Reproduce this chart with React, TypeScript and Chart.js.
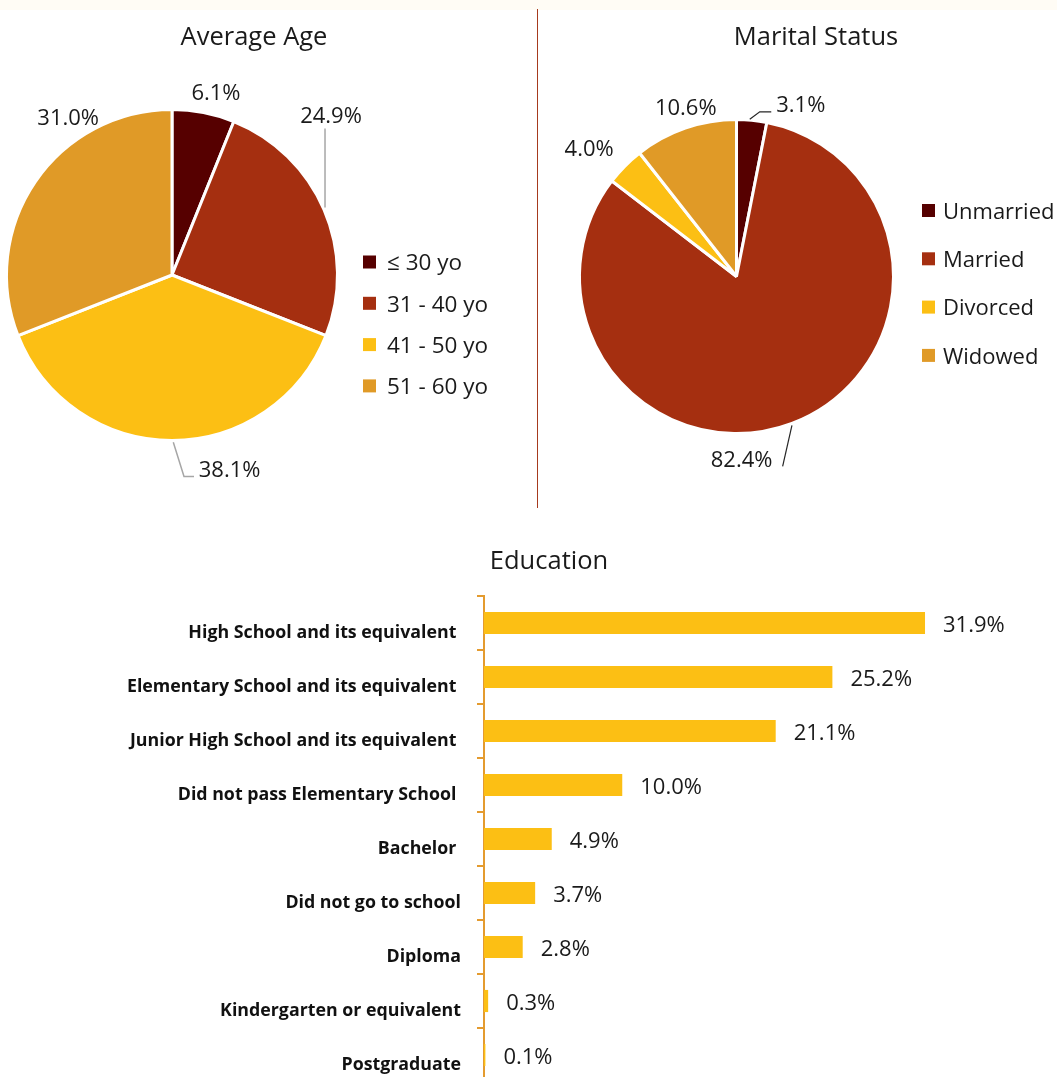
import React, { useEffect, useRef } from 'react';
import { Chart, registerables } from 'chart.js';

Chart.register(...registerables);

const FONT = '"Open Sans", "Noto Sans", "DejaVu Sans", sans-serif';
const TEXT = '#1a1a1a';

// ---------- data ----------
const ageCategories = ['\u2264 30 yo', '31 - 40 yo', '41 - 50 yo', '51 - 60 yo'];
const ageValues = [6.1, 24.9, 38.1, 31.0];

const maritalCategories = ['Unmarried', 'Married', 'Divorced', 'Widowed'];
const maritalValues = [3.1, 82.4, 4.0, 10.6];

const educationCategories = [
  'High School and its equivalent ',
  'Elementary School and its equivalent ',
  'Junior High School and its equivalent ',
  'Did not pass Elementary School ',
  'Bachelor ',
  'Did not go to school',
  'Diploma',
  'Kindergarten or equivalent',
  'Postgraduate',
];
const educationValues = [31.9, 25.2, 21.1, 10.0, 4.9, 3.7, 2.8, 0.3, 0.1];

const pieColors = ['#560000', '#a52f10', '#fcbf14', '#e09a27'];
const barColor = '#fcbf14';
const axisColor = '#e49b2f';

// ---------- label layout (offsets from each slice's outer-edge midpoint) ----------
const ageLabelOffsets: [number, number][] = [[12.5, -21], [7, -94.5], [57.6, 28], [33, -65]];
const ageLeaders: ([number, number][] | null)[] = [
  null,
  [[1, -2], [1, -81]],
  [[1.3, 1.7], [12, 36], [22, 36]],
  null,
];
const maritalLabelOffsets: [number, number][] = [[49, -16.7], [-50.3, 35.2], [-35.7, -18.7], [0.5, -21]];
const maritalLeaders: ([number, number][] | null)[] = [
  [[-2, -1], [8, -8.4], [19.5, -8.4]],
  [[0, 2], [-9.3, 43]],
  null,
  null,
];

type OverlayCfg = {
  title?: { text: string; x: number; y: number; size: number };
  legend?: { x: number; y: number; step: number; box: number; gap: number; size: number };
  pieLabels?: { offsets: [number, number][]; leaders: ([number, number][] | null)[]; color: string; width: number; size: number };
  barLabels?: { gap: number; dy: number; size: number };
  textDy: number;
};

function makeOverlay(cfg: OverlayCfg) {
  return {
    id: 'overlay',
    afterDraw(chart: any) {
      const ctx: CanvasRenderingContext2D = chart.ctx;
      const tdy = cfg.textDy;
      ctx.save();
      ctx.textBaseline = 'middle';
      if (cfg.title) {
        const t = cfg.title;
        ctx.font = `400 ${t.size}px ${FONT}`;
        ctx.fillStyle = TEXT;
        ctx.textAlign = 'center';
        ctx.fillText(t.text, t.x, t.y + tdy);
      }
      if (cfg.legend) {
        const l = cfg.legend;
        const labels = chart.data.labels as string[];
        const colors = chart.data.datasets[0].backgroundColor as string[];
        ctx.font = `400 ${l.size}px ${FONT}`;
        ctx.textAlign = 'left';
        labels.forEach((lab, i) => {
          const cy = l.y + i * l.step;
          ctx.fillStyle = colors[i];
          ctx.fillRect(l.x, cy - l.box / 2, l.box, l.box);
          ctx.fillStyle = TEXT;
          ctx.fillText(lab, l.x + l.box + l.gap, cy + tdy);
        });
      }
      if (cfg.pieLabels) {
        const p = cfg.pieLabels;
        const meta = chart.getDatasetMeta(0);
        const values = chart.data.datasets[0].data as number[];
        ctx.font = `400 ${p.size}px ${FONT}`;
        ctx.textAlign = 'center';
        meta.data.forEach((arc: any, i: number) => {
          const { x, y, startAngle, endAngle, outerRadius } = arc.getProps(
            ['x', 'y', 'startAngle', 'endAngle', 'outerRadius'],
            true
          );
          const mid = (startAngle + endAngle) / 2;
          const ex = x + Math.cos(mid) * outerRadius;
          const ey = y + Math.sin(mid) * outerRadius;
          const lead = p.leaders[i];
          if (lead) {
            ctx.beginPath();
            lead.forEach(([dx, dy], k) => {
              if (k === 0) ctx.moveTo(ex + dx, ey + dy);
              else ctx.lineTo(ex + dx, ey + dy);
            });
            ctx.strokeStyle = p.color;
            ctx.lineWidth = p.width;
            ctx.stroke();
          }
          const [ox, oy] = p.offsets[i];
          ctx.fillStyle = TEXT;
          ctx.fillText(values[i].toFixed(1) + '%', ex + ox, ey + oy + tdy);
        });
      }
      if (cfg.barLabels) {
        const b = cfg.barLabels;
        const meta = chart.getDatasetMeta(0);
        const values = chart.data.datasets[0].data as number[];
        ctx.font = `400 ${b.size}px ${FONT}`;
        ctx.textAlign = 'left';
        ctx.fillStyle = TEXT;
        meta.data.forEach((bar: any, i: number) => {
          ctx.fillText(values[i].toFixed(1) + '%', bar.x + b.gap, bar.y + b.dy);
        });
      }
      ctx.restore();
    },
  };
}

function ChartCanvas({ left, top, width, height, makeConfig }: any) {
  const ref = useRef<HTMLCanvasElement>(null);
  useEffect(() => {
    const chart = new Chart(ref.current as HTMLCanvasElement, makeConfig());
    return () => chart.destroy();
  }, []);
  return (
    <canvas
      ref={ref}
      width={width}
      height={height}
      style={{ position: 'absolute', left, top, width, height, display: 'block' }}
    />
  );
}

const noPlugins = {
  legend: { display: false },
  title: { display: false },
  tooltip: { enabled: false },
};

function ageConfig(): any {
  return {
    type: 'pie',
    data: {
      labels: ageCategories,
      datasets: [{ data: ageValues, backgroundColor: pieColors, borderColor: '#ffffff', borderWidth: 3 }],
    },
    options: {
      responsive: false,
      animation: false,
      events: [],
      layout: { padding: { left: 5, top: 108, right: 199, bottom: 70 } },
      plugins: noPlugins,
    },
    plugins: [
      makeOverlay({
        title: { text: 'Average Age', x: 254, y: 36, size: 25.5 },
        legend: { x: 363, y: 262, step: 41.3, box: 13, gap: 11, size: 22.5 },
        pieLabels: { offsets: ageLabelOffsets, leaders: ageLeaders, color: '#a6a6a6', width: 1.5, size: 22 },
        textDy: 2,
      }),
    ],
  };
}

function maritalConfig(): any {
  return {
    type: 'pie',
    data: {
      labels: maritalCategories,
      datasets: [{ data: maritalValues, backgroundColor: pieColors, borderColor: '#ffffff', borderWidth: 3 }],
    },
    options: {
      responsive: false,
      animation: false,
      events: [],
      layout: { padding: { left: 40, top: 118, right: 162, bottom: 77 } },
      plugins: noPlugins,
    },
    plugins: [
      makeOverlay({
        title: { text: 'Marital Status', x: 278, y: 36, size: 25.5 },
        legend: { x: 384, y: 210.5, step: 48.3, box: 13, gap: 8, size: 22 },
        pieLabels: { offsets: maritalLabelOffsets, leaders: maritalLeaders, color: '#262626', width: 1.2, size: 22 },
        textDy: 2,
      }),
    ],
  };
}

function educationConfig(): any {
  return {
    type: 'bar',
    data: {
      labels: educationCategories,
      datasets: [
        {
          data: educationValues,
          backgroundColor: barColor,
          borderWidth: 0,
          barPercentage: 0.41,
          categoryPercentage: 1,
        },
      ],
    },
    options: {
      indexAxis: 'y',
      responsive: false,
      animation: false,
      events: [],
      layout: { padding: { left: 0, top: 76, right: 20, bottom: 30 } },
      plugins: noPlugins,
      scales: {
        x: { display: false, min: 0, max: 40 },
        y: {
          afterFit: (axis: any) => {
            axis.width = 484;
          },
          border: { display: true, color: axisColor, width: 2 },
          grid: {
            display: true,
            drawOnChartArea: false,
            drawTicks: true,
            tickLength: 7,
            color: axisColor,
            lineWidth: 2,
            offset: true,
          },
          ticks: {
            autoSkip: false,
            padding: 16,
            labelOffset: 10,
            color: '#111111',
            font: { family: FONT, size: 17.8, weight: 'bold' },
          },
        },
      },
    },
    plugins: [
      makeOverlay({
        title: { text: 'Education', x: 549, y: 39, size: 25.5 },
        barLabels: { gap: 18, dy: 3, size: 22 },
        textDy: 3,
      }),
    ],
  };
}

export default function App() {
  return (
    <div
      style={{
        position: 'absolute',
        left: 0,
        top: 0,
        width: 1057,
        height: 1077,
        overflow: 'hidden',
        background: '#ffffff',
      }}
    >
      <div style={{ position: 'absolute', left: 0, top: 0, width: 1057, height: 10, background: '#fffcf5' }} />
      <ChartCanvas left={0} top={0} width={538} height={512} makeConfig={ageConfig} />
      <ChartCanvas left={538} top={0} width={519} height={512} makeConfig={maritalConfig} />
      <ChartCanvas left={0} top={520} width={1057} height={592} makeConfig={educationConfig} />
      <div style={{ position: 'absolute', left: 537, top: 9, width: 1, height: 499, background: '#a63a1e' }} />
    </div>
  );
}
